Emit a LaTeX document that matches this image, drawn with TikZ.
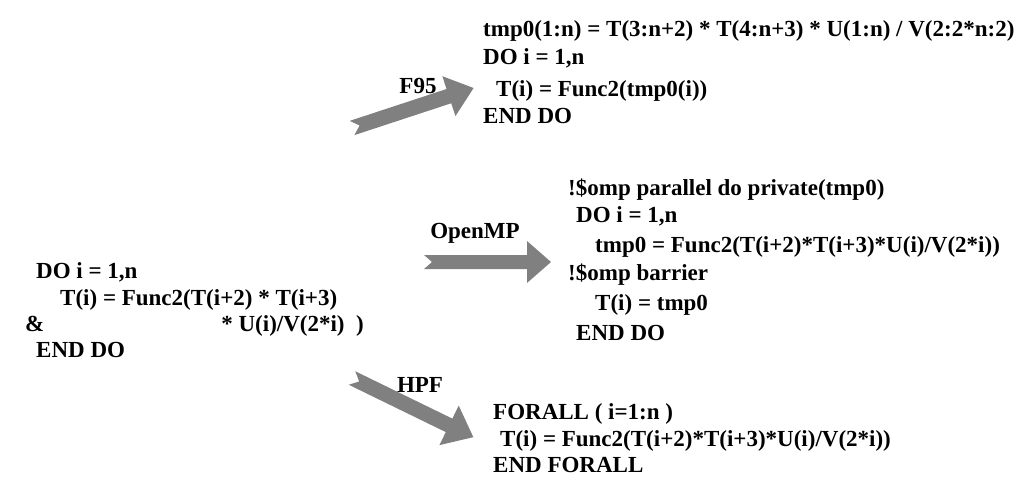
\documentclass[tikz,border=0pt]{standalone}
\usepackage{fontspec}
\setmainfont{Liberation Serif}
\usetikzlibrary{calc}
\definecolor{arrowgray}{HTML}{808080}
\tikzset{
  code/.style={anchor=base west, inner sep=0pt, font=\fontsize{23}{27}\selectfont\bfseries},
  codeR/.style={code, anchor=base east},
  lbl/.style={anchor=center, inner sep=0pt, font=\fontsize{23}{27}\selectfont\bfseries},
  fatarrow/.style={fill=arrowgray, draw=none}
}
% #1 length, #2 head length, #3 head height, #4 shaft width, #5 notch depth
\newcommand\fatarrowpoly[5]{%
  \fill[fatarrow] (0,-#4/2) -- (#1-#2,-#4/2) -- (#1-#2,-#3/2) -- (#1,0) --
    (#1-#2,#3/2) -- (#1-#2,#4/2) -- (0,#4/2) -- (#5,0) -- cycle;}
\begin{document}
\begin{tikzpicture}[x=1pt,y=-1pt]
\useasboundingbox (0,0) rectangle (1029,487);

% source loop
\node[code] (s1) at (36,278) {DO i = 1,n};
\node[code] (s2) at (60,305) {T(i) = Func2(T(i+2) * T(i+3)};
\node[code] (s3) at (25,331) {\&};
\node[codeR] (s3b) at (364,331) {* U(i)/V(2*i)\ \ )};
\node[code] (s4) at (36,357) {END DO};

% F95 version
\node[code] (f1) at (483,37) {tmp0(1:n) = T(3:n+2) * T(4:n+3) * U(1:n) / V(2:2*n:2)};
\node[code] (f2) at (483,65) {DO i = 1,n};
\node[code] (f3) at (496,97) {T(i) = Func2(tmp0(i))};
\node[code] (f4) at (483,124) {END DO};

% OpenMP version
\node[code] (o1) at (568,195) {!\$omp parallel do private(tmp0)};
\node[code] (o2) at (576,222) {DO i = 1,n};
\node[code] (o3) at (595,252) {tmp0 = Func2(T(i+2)*T(i+3)*U(i)/V(2*i))};
\node[code] (o4) at (568,280) {!\$omp barrier};
\node[code] (o5) at (595,310) {T(i) = tmp0};
\node[code] (o6) at (576,340) {END DO};

% HPF version
\node[code] (h1) at (493,419) {FORALL ( i=1:n )};
\node[code] (h2) at (500,446) {T(i) = Func2(T(i+2)*T(i+3)*U(i)/V(2*i))};
\node[code] (h3) at (493,472) {END FORALL};

% labels
\node[lbl] (lf) at (418,86) {F95};
\node[lbl] (lo) at (475,233) {OpenMP};
\node[lbl] (lh) at (420,385) {HPF};

% arrows
\coordinate (af) at (352,128);
\coordinate (ao) at (424,262);
\coordinate (ah) at (352,378);
\begin{scope}[shift={(af)}, rotate=18.2]
  \fatarrowpoly{128}{26}{42}{15}{8}
\end{scope}
\begin{scope}[shift={(ao)}]
  \fatarrowpoly{127}{24}{42}{14}{8}
\end{scope}
\begin{scope}[shift={(ah)}, rotate=-26]
  \fatarrowpoly{135}{27}{44}{15}{8}
\end{scope}
\end{tikzpicture}
\end{document}
